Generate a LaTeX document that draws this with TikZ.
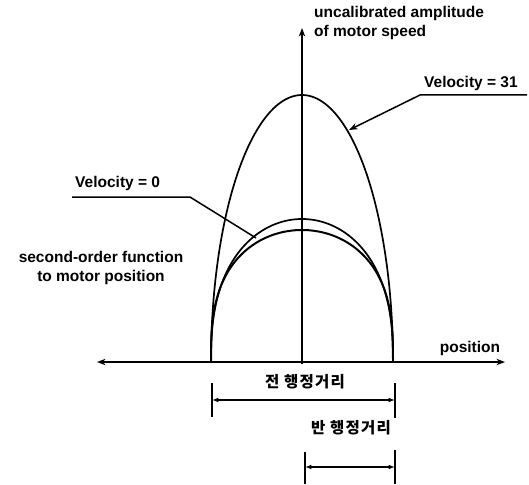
\documentclass[tikz,border=0pt]{standalone}
\usepackage{fontspec}
\setmainfont{Liberation Sans}
\newfontfamily\krfont[LetterSpace=8]{Noto Sans CJK KR}
\usetikzlibrary{arrows.meta,positioning}

\begin{document}
\begin{tikzpicture}[
  x=1pt,y=-1pt,
  txt/.style={font=\bfseries\fontsize{15.5}{19}\selectfont,inner sep=0pt},
  kor/.style={font=\krfont\bfseries\fontsize{15.5}{18}\selectfont,inner sep=0pt},
  axis/.style={line width=1.8pt},
  curve/.style={line width=1.7pt},
  leader/.style={line width=1.5pt},
  dim/.style={line width=1.5pt,{Latex[length=2.2mm]}-{Latex[length=2.2mm]}},
  bar/.style={line width=1.8pt}
]
\useasboundingbox (0,0) rectangle (529,484);
% axes
\coordinate (xl) at (97,362);
\coordinate (xr) at (505,362);
\coordinate (yb) at (302,364);
\coordinate (yt) at (302,28);
\draw[axis,{Stealth[length=3mm]}-{Stealth[length=3mm]}] (xl) -- (xr);
\draw[axis,-{Stealth[length=3mm]}] (yb) -- (yt);
% curves
\draw[curve] plot[domain=0:180,samples=121] ({302-91*cos(\x)},{362-267*sin(\x)});
\draw[curve] plot[domain=0.2:179.8,samples=161] ({302-91*cos(\x)},{362-143*pow(sin(\x),0.8)});
\draw[curve,line width=2pt] plot[domain=0.2:179.8,samples=161] ({302-91*cos(\x)},{362-132*pow(sin(\x),0.7)});
% labels
\node[txt,align=left,anchor=north west] (amp) at (314,6) {uncalibrated amplitude\\of motor speed};
\node[txt,anchor=south west] (v31) at (424,91) {Velocity = 31};
\node[txt,anchor=south west] (v0) at (75,191) {Velocity = 0};
\node[txt,align=center] (sof) at (101,268) {second-order function\\to motor position};
\node[txt] (pos) at (470,348) {position};
% leaders
\coordinate (v31a) at (527,95);
\coordinate (v31b) at (420,95);
\coordinate (v31tip) at (349,130);
\draw[leader,-{Stealth[length=3mm]}] (v31a) -- (v31b) -- (v31tip);
\coordinate (v0a) at (72,197);
\coordinate (v0b) at (190,197);
\coordinate (v0tip) at (256,238);
\draw[leader] (v0a) -- (v0b) -- (v0tip);
% strokes
\node[kor] (full) at (305,382) {전 행정거리};
\node[kor] (half) at (351,428) {반 행정거리};
\coordinate (d1l) at (212,400);
\coordinate (d1r) at (395,400);
\coordinate (d2l) at (305,467);
\coordinate (d2r) at (395,467);
\draw[bar] (212,383) -- (212,417);
\draw[bar] (395,383) -- (395,418);
\draw[bar] (305,452) -- (305,484);
\draw[bar] (395,450) -- (395,484);
\draw[dim] (d1l) -- (d1r);
\draw[dim] (d2l) -- (d2r);
\end{tikzpicture}
\end{document}
